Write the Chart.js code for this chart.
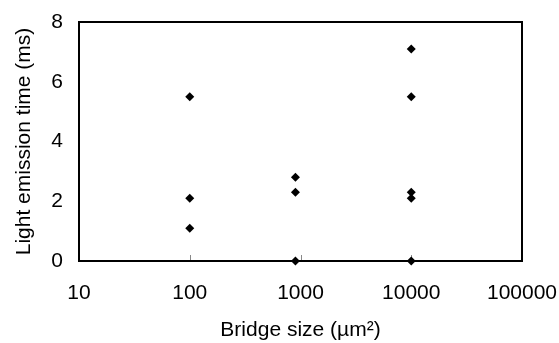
<!DOCTYPE html>
<html>
<head>
<meta charset="utf-8">
<script src="https://cdn.jsdelivr.net/npm/chart.js@4/dist/chart.umd.min.js"></script>
<style>
  html, body { margin: 0; padding: 0; background: #fff; }
  #wrap { width: 559px; height: 343px; }
</style>
</head>
<body>
<div id="wrap"><canvas id="chart"></canvas></div>
<script>
// bridge size (um^2) and light emission time (ms) for each measured sample
const bridgeSizes = [100, 100, 100, 900, 900, 900, 10000, 10000, 10000, 10000, 10000];
const emissionTimes = [5.5, 2.1, 1.1, 2.8, 2.3, 0, 7.1, 5.5, 2.3, 2.1, 0];
const xTicks = [10, 100, 1000, 10000, 100000];
const yTicks = [0, 2, 4, 6, 8];

const FONT = "'Liberation Sans', Arial, sans-serif";

const points = bridgeSizes.map((x, i) => ({ x: x, y: emissionTimes[i] }));

// box around the plot area plus the short inward ticks on the x axis
const frame = {
  id: 'frame',
  beforeDatasetsDraw(chart) {
    const ctx = chart.ctx;
    const a = chart.chartArea;
    const xs = chart.scales.x;
    ctx.save();
    ctx.strokeStyle = '#888';
    ctx.lineWidth = 1;
    xTicks.forEach(v => {
      const px = Math.round(xs.getPixelForValue(v)) + 0.5;
      ctx.beginPath();
      ctx.moveTo(px, a.bottom);
      ctx.lineTo(px, a.bottom - 6);
      ctx.stroke();
    });
    ctx.strokeStyle = '#000';
    ctx.lineWidth = 2;
    ctx.strokeRect(a.left, a.top, a.right - a.left, a.bottom - a.top);
    ctx.restore();
  }
};

new Chart(document.getElementById('chart'), {
  type: 'scatter',
  data: {
    datasets: [{
      data: points,
      pointStyle: 'rectRot',
      pointRadius: 4.5,
      pointHoverRadius: 4.5,
      backgroundColor: '#000',
      borderColor: '#000',
      borderWidth: 0,
      clip: false
    }]
  },
  options: {
    responsive: true,
    maintainAspectRatio: false,
    animation: false,
    events: [],
    layout: { padding: { top: 22, right: 37, left: 0, bottom: 0 } },
    plugins: { legend: { display: false }, tooltip: { enabled: false } },
    scales: {
      x: {
        type: 'logarithmic',
        min: 10,
        max: 100000,
        grid: { display: false, drawTicks: false },
        border: { display: false },
        afterBuildTicks(scale) { scale.ticks = xTicks.map(v => ({ value: v })); },
        afterFit(scale) {
          scale.height = 82;
          scale.paddingLeft = 0;
          scale.paddingRight = 0;
        },
        ticks: {
          padding: 20,
          color: '#000',
          font: { family: FONT, size: 21 },
          maxRotation: 0,
          autoSkip: false,
          callback: v => String(v)
        },
        title: {
          display: true,
          text: 'Bridge size (µm²)',
          color: '#000',
          font: { family: FONT, size: 21 },
          padding: { top: 0, bottom: 0 }
        }
      },
      y: {
        min: 0,
        max: 8,
        grid: { display: false, drawTicks: false },
        border: { display: false },
        afterBuildTicks(scale) { scale.ticks = yTicks.map(v => ({ value: v })); },
        afterFit(scale) {
          scale.width = 79;
          scale.paddingTop = 0;
          scale.paddingBottom = 0;
        },
        ticks: {
          padding: 16,
          color: '#000',
          font: { family: FONT, size: 21 }
        },
        title: {
          display: true,
          text: 'Light emission time (ms)',
          color: '#000',
          font: { family: FONT, size: 21 },
          padding: { top: 12, bottom: 0 }
        }
      }
    }
  },
  plugins: [frame]
});
</script>
</body>
</html>
